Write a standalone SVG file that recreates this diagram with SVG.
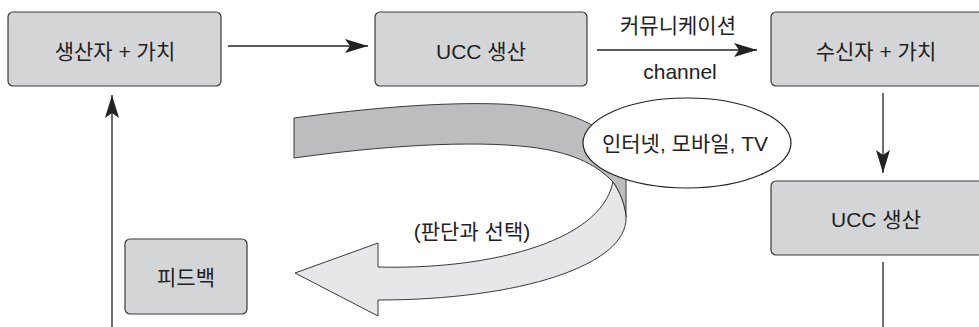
<svg xmlns="http://www.w3.org/2000/svg" width="979" height="327" viewBox="0 0 979 327">
<defs>
<style>
.box{fill:#d4d5d7;stroke:#3a3a3a;stroke-width:1.2}
.lbl{font-family:"Liberation Sans","Noto Sans CJK KR",sans-serif;font-size:21px;fill:#222;text-anchor:middle;dominant-baseline:central}
.ln{stroke:#222;stroke-width:1.3;fill:none}
.band{stroke:#3a3a3a;stroke-width:1;stroke-linejoin:round}
</style>
<marker id="ah" markerUnits="userSpaceOnUse" markerWidth="24" markerHeight="14" refX="23" refY="7" orient="auto">
<path d="M0,0 L23,7 L0,14 L5,7 Z" fill="#222"/>
</marker>
</defs>
<rect width="979" height="327" fill="#fff"/>
<g id="ribbon">
<path class="band" fill="#bcbdbf" d="M294,118 C370,108 440,102 500,104 C545,106 580,116 600,130 C615,142 626,160 626,177 L626,217 C625,205 620,192 613,182 C595,163 570,152 530,147 C470,140 380,146 294,158 Z"/>
<path class="band" fill="#e6e7e8" d="M613,182 C620,192 625,205 626,217 C628,265 520,300 378,300 L378,316 L295,273 L378,243 L378,267 C480,270 600,245 613,182 Z"/>
<text class="lbl" x="472" y="231">(판단과 선택)</text>
</g>
<g id="connectors">
<line class="ln" x1="228" y1="46" x2="368" y2="46" marker-end="url(#ah)"/>
<line class="ln" x1="597" y1="50" x2="757" y2="50" marker-end="url(#ah)"/>
<line class="ln" x1="883" y1="93" x2="883" y2="173" marker-end="url(#ah)"/>
<line class="ln" x1="883" y1="262" x2="883" y2="327"/>
<line class="ln" x1="112" y1="327" x2="112" y2="95" marker-end="url(#ah)"/>
<text class="lbl" x="678" y="25">커뮤니케이션</text>
<text class="lbl" x="680" y="71">channel</text>
</g>
<g id="node-producer">
<rect class="box" x="8" y="12" width="213" height="74" rx="5"/>
<text class="lbl" x="115" y="51">생산자 + 가치</text>
</g>
<g id="node-ucc1">
<rect class="box" x="375" y="12" width="212" height="74" rx="5"/>
<text class="lbl" x="481" y="51">UCC 생산</text>
</g>
<g id="node-receiver">
<rect class="box" x="771" y="12" width="214" height="74" rx="5"/>
<text class="lbl" x="876" y="51">수신자 + 가치</text>
</g>
<g id="node-ucc2">
<rect class="box" x="771" y="181" width="214" height="74" rx="5"/>
<text class="lbl" x="876" y="219">UCC 생산</text>
</g>
<g id="node-feedback">
<rect class="box" x="125" y="239" width="122" height="75" rx="5"/>
<text class="lbl" x="186" y="277">피드백</text>
</g>
<g id="node-channel">
<ellipse cx="687" cy="143" rx="104" ry="45" fill="#fff" stroke="#222" stroke-width="1.2"/>
<text class="lbl" x="685" y="143">인터넷, 모바일, TV</text>
</g>
</svg>
